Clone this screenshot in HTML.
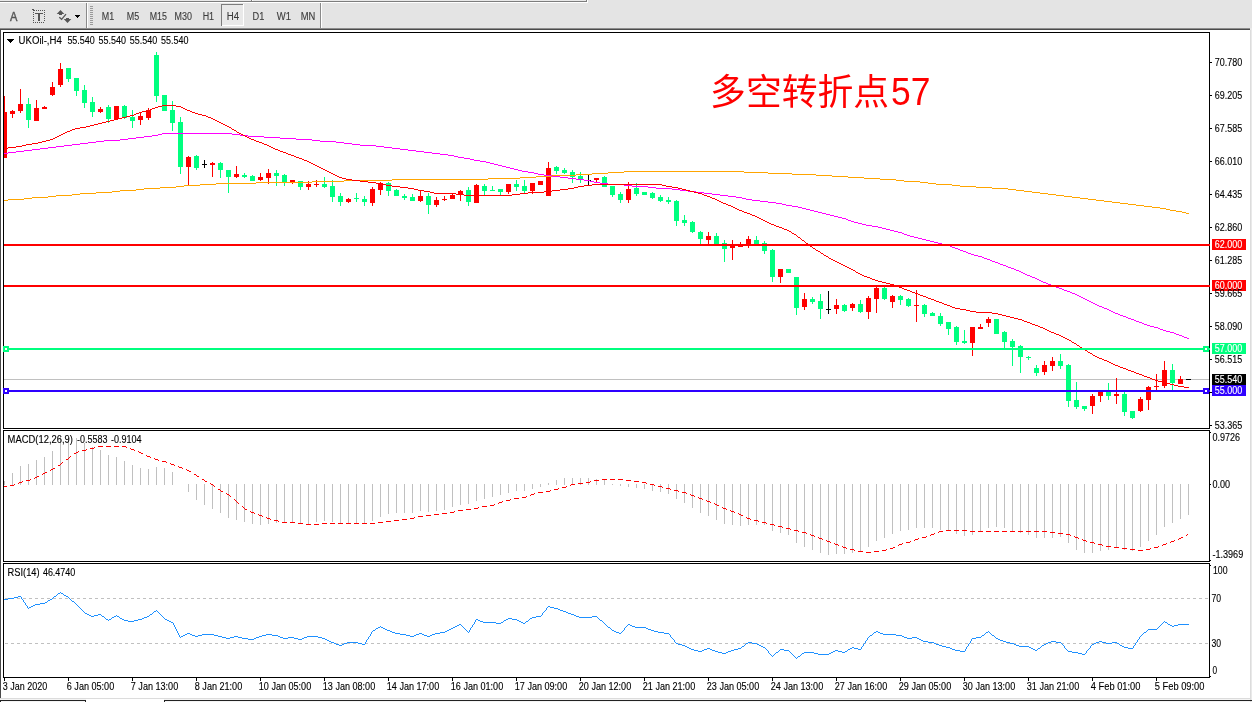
<!DOCTYPE html><html><head><meta charset="utf-8"><title>UKOil H4</title>
<style>html,body{margin:0;padding:0;background:#fff}body{width:1252px;height:702px;overflow:hidden;position:relative;font-family:"Liberation Sans",sans-serif}svg{position:absolute;left:0;top:0;display:block;will-change:transform}text{font-family:"Liberation Sans",sans-serif;font-size:10px;fill:#000;stroke:#000;stroke-width:0.12px}.tb{fill:#3c3c3c;stroke:#3c3c3c;font-size:10px}.w{fill:#fff;stroke:#fff}</style></head><body>
<svg width="1252" height="702" viewBox="0 0 1252 702">
<g shape-rendering="crispEdges">
<rect x="0" y="0" width="1252" height="702" fill="#fff"/>
<rect x="0" y="0" width="1252" height="28" fill="#e4e4e4"/>
<rect x="0" y="0" width="587" height="1" fill="#e9e9e9"/>
<rect x="0" y="1" width="587" height="1" fill="#7d7d7d"/>
<rect x="586" y="0" width="1" height="2" fill="#7d7d7d"/>
<rect x="0" y="2" width="588" height="1" fill="#fff"/>
<rect x="587" y="0" width="1" height="3" fill="#fff"/>
<rect x="251" y="0" width="1" height="1" fill="#7d7d7d"/>
<rect x="252" y="0" width="1" height="1" fill="#fff"/>
<rect x="0" y="28" width="1251" height="1" fill="#8c8c8c"/>
<rect x="0" y="29" width="1251" height="1" fill="#4a4a4a"/>
<rect x="1250" y="28" width="2" height="674" fill="#e9e9e9"/>
<rect x="1250" y="30" width="1" height="672" fill="#dcdcdc"/>
<rect x="0" y="29" width="1" height="669" fill="#4a4a4a"/>
<rect x="86" y="3" width="1" height="26" fill="#8a8a8a"/>
<rect x="87" y="3" width="1" height="25" fill="#fff"/>
<rect x="320" y="3" width="1" height="26" fill="#8a8a8a"/>
<rect x="321" y="3" width="1" height="25" fill="#fff"/>
<rect x="90" y="6" width="3" height="1" fill="#9a9a9a"/>
<rect x="90" y="8" width="3" height="1" fill="#9a9a9a"/>
<rect x="90" y="10" width="3" height="1" fill="#9a9a9a"/>
<rect x="90" y="12" width="3" height="1" fill="#9a9a9a"/>
<rect x="90" y="14" width="3" height="1" fill="#9a9a9a"/>
<rect x="90" y="16" width="3" height="1" fill="#9a9a9a"/>
<rect x="90" y="18" width="3" height="1" fill="#9a9a9a"/>
<rect x="90" y="20" width="3" height="1" fill="#9a9a9a"/>
<rect x="90" y="22" width="3" height="1" fill="#9a9a9a"/>
<rect x="90" y="24" width="3" height="1" fill="#9a9a9a"/>
<rect x="221" y="4" width="22" height="1" fill="#7d7d7d"/>
<rect x="221" y="4" width="1" height="22" fill="#7d7d7d"/>
<rect x="222" y="25" width="22" height="1" fill="#fff"/>
<rect x="243" y="4" width="1" height="22" fill="#fff"/>
<rect x="222" y="5" width="21" height="20" fill="#e9e9e9"/>
<rect x="36" y="10" width="1" height="1" fill="#555"/>
<rect x="38" y="10" width="1" height="1" fill="#555"/>
<rect x="40" y="10" width="1" height="1" fill="#555"/>
<rect x="42" y="10" width="1" height="1" fill="#555"/>
<rect x="44" y="10" width="1" height="1" fill="#555"/>
<rect x="33" y="22" width="1" height="1" fill="#555"/>
<rect x="35" y="22" width="1" height="1" fill="#555"/>
<rect x="37" y="22" width="1" height="1" fill="#555"/>
<rect x="39" y="22" width="1" height="1" fill="#555"/>
<rect x="41" y="22" width="1" height="1" fill="#555"/>
<rect x="43" y="22" width="1" height="1" fill="#555"/>
<rect x="33" y="12" width="1" height="1" fill="#555"/>
<rect x="33" y="14" width="1" height="1" fill="#555"/>
<rect x="33" y="16" width="1" height="1" fill="#555"/>
<rect x="33" y="18" width="1" height="1" fill="#555"/>
<rect x="33" y="20" width="1" height="1" fill="#555"/>
<rect x="33" y="22" width="1" height="1" fill="#555"/>
<rect x="44" y="10" width="1" height="1" fill="#555"/>
<rect x="44" y="12" width="1" height="1" fill="#555"/>
<rect x="44" y="14" width="1" height="1" fill="#555"/>
<rect x="44" y="16" width="1" height="1" fill="#555"/>
<rect x="44" y="18" width="1" height="1" fill="#555"/>
<rect x="44" y="20" width="1" height="1" fill="#555"/>
<rect x="32" y="9" width="2" height="1" fill="#555"/>
<rect x="33" y="10" width="2" height="1" fill="#555"/>
<rect x="35" y="13" width="8" height="1" fill="#555"/>
<rect x="38" y="13" width="2" height="8" fill="#555"/>
<rect x="75" y="15" width="5" height="1" fill="#000"/>
<rect x="76" y="16" width="3" height="1" fill="#000"/>
<rect x="77" y="17" width="1" height="1" fill="#000"/>
</g>
<path d="M60.5 10 L64.3 14 L62 14 L62 15 L59 15 L59 14 L56.7 14 Z" fill="#555"/>
<path d="M67.5 23 L71.3 19 L69 19 L69 18 L66 18 L66 19 L63.7 19 Z" fill="#555"/>
<path d="M59.3 17.3 L61.6 19.3 L66 14.2" fill="none" stroke="#555" stroke-width="1.3"/>
<text x="10" y="21" style="font-size:12.6px;fill:#555;stroke:#555;stroke-width:0.42px" textLength="7.4" lengthAdjust="spacingAndGlyphs">A</text>
<text class="tb" x="101.8" y="20" textLength="12.4" lengthAdjust="spacingAndGlyphs">M1</text>
<text class="tb" x="126.8" y="20" textLength="12.4" lengthAdjust="spacingAndGlyphs">M5</text>
<text class="tb" x="149.7" y="20" textLength="17.2" lengthAdjust="spacingAndGlyphs">M15</text>
<text class="tb" x="174.6" y="20" textLength="17.4" lengthAdjust="spacingAndGlyphs">M30</text>
<text class="tb" x="202.7" y="20" textLength="11.4" lengthAdjust="spacingAndGlyphs">H1</text>
<text class="tb" x="226.7" y="20" textLength="12.4" lengthAdjust="spacingAndGlyphs">H4</text>
<text class="tb" x="252.6" y="20" textLength="11.8" lengthAdjust="spacingAndGlyphs">D1</text>
<text class="tb" x="276.8" y="20" textLength="14.2" lengthAdjust="spacingAndGlyphs">W1</text>
<text class="tb" x="300.8" y="20" textLength="14.6" lengthAdjust="spacingAndGlyphs">MN</text>
<g shape-rendering="crispEdges">
<rect x="0" y="698" width="1250" height="1" fill="#dcdcdc"/>
<rect x="0" y="699" width="1250" height="3" fill="#f4f4f4"/>
<rect x="0" y="700" width="86" height="1" fill="#222"/>
<rect x="85" y="700" width="1" height="2" fill="#222"/>
<rect x="0" y="700" width="1" height="2" fill="#222"/>
<rect x="164" y="700" width="1088" height="1" fill="#222"/>
<rect x="164" y="700" width="1" height="2" fill="#222"/>
<rect x="86" y="699" width="78" height="3" fill="#fff"/>
</g>
<defs><clipPath id="cm"><rect x="4" y="33" width="1205" height="395"/></clipPath><clipPath id="cc"><rect x="4" y="431" width="1205" height="130"/></clipPath><clipPath id="cr"><rect x="4" y="564" width="1205" height="113"/></clipPath></defs>
<g shape-rendering="crispEdges">
<rect x="4" y="379" width="1205" height="1" fill="#c0c0c0"/>
<g clip-path="url(#cm)">
<rect x="4" y="96" width="1" height="62" fill="#ff0000"/>
<rect x="2" y="112" width="5" height="46" fill="#ff0000"/>
<rect x="12" y="110" width="1" height="8" fill="#ff0000"/>
<rect x="10" y="111" width="5" height="3" fill="#ff0000"/>
<rect x="20" y="89" width="1" height="24" fill="#ff0000"/>
<rect x="18" y="104" width="5" height="7" fill="#ff0000"/>
<rect x="28" y="98" width="1" height="30" fill="#00ff7f"/>
<rect x="26" y="104" width="5" height="16" fill="#00ff7f"/>
<rect x="36" y="100" width="1" height="21" fill="#ff0000"/>
<rect x="34" y="108" width="5" height="13" fill="#ff0000"/>
<rect x="44" y="106" width="1" height="3" fill="#ff0000"/>
<rect x="42" y="107" width="5" height="2" fill="#ff0000"/>
<rect x="52" y="82" width="1" height="14" fill="#ff0000"/>
<rect x="50" y="87" width="5" height="8" fill="#ff0000"/>
<rect x="60" y="63" width="1" height="24" fill="#ff0000"/>
<rect x="58" y="69" width="5" height="16" fill="#ff0000"/>
<rect x="68" y="68" width="1" height="14" fill="#00ff7f"/>
<rect x="66" y="68" width="5" height="11" fill="#00ff7f"/>
<rect x="76" y="78" width="1" height="18" fill="#00ff7f"/>
<rect x="74" y="78" width="5" height="13" fill="#00ff7f"/>
<rect x="84" y="85" width="1" height="23" fill="#00ff7f"/>
<rect x="82" y="90" width="5" height="13" fill="#00ff7f"/>
<rect x="92" y="97" width="1" height="20" fill="#00ff7f"/>
<rect x="90" y="102" width="5" height="10" fill="#00ff7f"/>
<rect x="100" y="107" width="1" height="6" fill="#ff0000"/>
<rect x="98" y="109" width="5" height="3" fill="#ff0000"/>
<rect x="108" y="105" width="1" height="18" fill="#00ff7f"/>
<rect x="106" y="107" width="5" height="12" fill="#00ff7f"/>
<rect x="116" y="106" width="1" height="14" fill="#ff0000"/>
<rect x="114" y="106" width="5" height="13" fill="#ff0000"/>
<rect x="124" y="105" width="1" height="14" fill="#00ff7f"/>
<rect x="122" y="106" width="5" height="12" fill="#00ff7f"/>
<rect x="132" y="110" width="1" height="18" fill="#00ff7f"/>
<rect x="130" y="117" width="5" height="4" fill="#00ff7f"/>
<rect x="140" y="112" width="1" height="13" fill="#ff0000"/>
<rect x="138" y="116" width="5" height="4" fill="#ff0000"/>
<rect x="148" y="108" width="1" height="12" fill="#ff0000"/>
<rect x="146" y="110" width="5" height="8" fill="#ff0000"/>
<rect x="156" y="52" width="1" height="50" fill="#00ff7f"/>
<rect x="154" y="55" width="5" height="41" fill="#00ff7f"/>
<rect x="164" y="95" width="1" height="16" fill="#00ff7f"/>
<rect x="162" y="95" width="5" height="16" fill="#00ff7f"/>
<rect x="172" y="101" width="1" height="30" fill="#00ff7f"/>
<rect x="170" y="110" width="5" height="13" fill="#00ff7f"/>
<rect x="180" y="117" width="1" height="57" fill="#00ff7f"/>
<rect x="178" y="122" width="5" height="45" fill="#00ff7f"/>
<rect x="188" y="156" width="1" height="30" fill="#ff0000"/>
<rect x="186" y="157" width="5" height="10" fill="#ff0000"/>
<rect x="196" y="155" width="1" height="15" fill="#00ff7f"/>
<rect x="194" y="156" width="5" height="12" fill="#00ff7f"/>
<rect x="204" y="160" width="1" height="8" fill="#000"/>
<rect x="202" y="164" width="5" height="1" fill="#000"/>
<rect x="212" y="162" width="1" height="15" fill="#ff0000"/>
<rect x="210" y="163" width="5" height="2" fill="#ff0000"/>
<rect x="220" y="162" width="1" height="16" fill="#00ff7f"/>
<rect x="218" y="163" width="5" height="7" fill="#00ff7f"/>
<rect x="228" y="170" width="1" height="23" fill="#00ff7f"/>
<rect x="226" y="170" width="5" height="7" fill="#00ff7f"/>
<rect x="236" y="166" width="1" height="12" fill="#ff0000"/>
<rect x="234" y="174" width="5" height="3" fill="#ff0000"/>
<rect x="244" y="173" width="1" height="5" fill="#00ff7f"/>
<rect x="242" y="175" width="5" height="2" fill="#00ff7f"/>
<rect x="252" y="175" width="1" height="6" fill="#00ff7f"/>
<rect x="250" y="176" width="5" height="5" fill="#00ff7f"/>
<rect x="260" y="173" width="1" height="8" fill="#ff0000"/>
<rect x="258" y="177" width="5" height="3" fill="#ff0000"/>
<rect x="268" y="169" width="1" height="15" fill="#ff0000"/>
<rect x="266" y="173" width="5" height="5" fill="#ff0000"/>
<rect x="276" y="170" width="1" height="16" fill="#00ff7f"/>
<rect x="274" y="173" width="5" height="3" fill="#00ff7f"/>
<rect x="284" y="174" width="1" height="12" fill="#00ff7f"/>
<rect x="282" y="175" width="5" height="7" fill="#00ff7f"/>
<rect x="292" y="180" width="1" height="4" fill="#ff0000"/>
<rect x="290" y="180" width="5" height="3" fill="#ff0000"/>
<rect x="300" y="181" width="1" height="9" fill="#00ff7f"/>
<rect x="298" y="181" width="5" height="6" fill="#00ff7f"/>
<rect x="308" y="181" width="1" height="9" fill="#ff0000"/>
<rect x="306" y="184" width="5" height="3" fill="#ff0000"/>
<rect x="316" y="180" width="1" height="7" fill="#ff0000"/>
<rect x="314" y="184" width="5" height="1" fill="#ff0000"/>
<rect x="324" y="177" width="1" height="11" fill="#00ff7f"/>
<rect x="322" y="184" width="5" height="3" fill="#00ff7f"/>
<rect x="332" y="180" width="1" height="22" fill="#00ff7f"/>
<rect x="330" y="186" width="5" height="11" fill="#00ff7f"/>
<rect x="340" y="193" width="1" height="13" fill="#00ff7f"/>
<rect x="338" y="196" width="5" height="6" fill="#00ff7f"/>
<rect x="348" y="198" width="1" height="5" fill="#ff0000"/>
<rect x="346" y="199" width="5" height="3" fill="#ff0000"/>
<rect x="356" y="193" width="1" height="9" fill="#00ff7f"/>
<rect x="354" y="198" width="5" height="1" fill="#00ff7f"/>
<rect x="364" y="196" width="1" height="10" fill="#00ff7f"/>
<rect x="362" y="199" width="5" height="3" fill="#00ff7f"/>
<rect x="372" y="187" width="1" height="19" fill="#ff0000"/>
<rect x="370" y="189" width="5" height="14" fill="#ff0000"/>
<rect x="380" y="182" width="1" height="13" fill="#ff0000"/>
<rect x="378" y="183" width="5" height="7" fill="#ff0000"/>
<rect x="388" y="182" width="1" height="14" fill="#00ff7f"/>
<rect x="386" y="183" width="5" height="8" fill="#00ff7f"/>
<rect x="396" y="189" width="1" height="7" fill="#00ff7f"/>
<rect x="394" y="190" width="5" height="6" fill="#00ff7f"/>
<rect x="404" y="194" width="1" height="6" fill="#00ff7f"/>
<rect x="402" y="196" width="5" height="2" fill="#00ff7f"/>
<rect x="412" y="194" width="1" height="7" fill="#00ff7f"/>
<rect x="410" y="197" width="5" height="4" fill="#00ff7f"/>
<rect x="420" y="191" width="1" height="11" fill="#ff0000"/>
<rect x="418" y="196" width="5" height="5" fill="#ff0000"/>
<rect x="428" y="193" width="1" height="21" fill="#00ff7f"/>
<rect x="426" y="196" width="5" height="9" fill="#00ff7f"/>
<rect x="436" y="197" width="1" height="10" fill="#ff0000"/>
<rect x="434" y="200" width="5" height="5" fill="#ff0000"/>
<rect x="444" y="196" width="1" height="5" fill="#ff0000"/>
<rect x="442" y="199" width="5" height="1" fill="#ff0000"/>
<rect x="452" y="194" width="1" height="5" fill="#ff0000"/>
<rect x="450" y="195" width="5" height="4" fill="#ff0000"/>
<rect x="460" y="190" width="1" height="11" fill="#ff0000"/>
<rect x="458" y="191" width="5" height="3" fill="#ff0000"/>
<rect x="468" y="187" width="1" height="19" fill="#00ff7f"/>
<rect x="466" y="190" width="5" height="12" fill="#00ff7f"/>
<rect x="476" y="184" width="1" height="19" fill="#ff0000"/>
<rect x="474" y="185" width="5" height="18" fill="#ff0000"/>
<rect x="484" y="184" width="1" height="11" fill="#00ff7f"/>
<rect x="482" y="186" width="5" height="5" fill="#00ff7f"/>
<rect x="492" y="186" width="1" height="5" fill="#00ff7f"/>
<rect x="490" y="190" width="5" height="1" fill="#00ff7f"/>
<rect x="500" y="189" width="1" height="6" fill="#00ff7f"/>
<rect x="498" y="189" width="5" height="3" fill="#00ff7f"/>
<rect x="508" y="184" width="1" height="10" fill="#ff0000"/>
<rect x="506" y="184" width="5" height="8" fill="#ff0000"/>
<rect x="516" y="180" width="1" height="11" fill="#00ff7f"/>
<rect x="514" y="184" width="5" height="3" fill="#00ff7f"/>
<rect x="524" y="180" width="1" height="13" fill="#00ff7f"/>
<rect x="522" y="186" width="5" height="5" fill="#00ff7f"/>
<rect x="532" y="183" width="1" height="11" fill="#ff0000"/>
<rect x="530" y="183" width="5" height="8" fill="#ff0000"/>
<rect x="540" y="181" width="1" height="4" fill="#ff0000"/>
<rect x="538" y="181" width="5" height="4" fill="#ff0000"/>
<rect x="548" y="162" width="1" height="34" fill="#ff0000"/>
<rect x="546" y="168" width="5" height="28" fill="#ff0000"/>
<rect x="556" y="166" width="1" height="8" fill="#00ff7f"/>
<rect x="554" y="167" width="5" height="4" fill="#00ff7f"/>
<rect x="564" y="168" width="1" height="6" fill="#00ff7f"/>
<rect x="562" y="170" width="5" height="3" fill="#00ff7f"/>
<rect x="572" y="170" width="1" height="13" fill="#00ff7f"/>
<rect x="570" y="172" width="5" height="5" fill="#00ff7f"/>
<rect x="580" y="172" width="1" height="11" fill="#00ff7f"/>
<rect x="578" y="176" width="5" height="3" fill="#00ff7f"/>
<rect x="588" y="175" width="1" height="10" fill="#000"/>
<rect x="586" y="180" width="5" height="1" fill="#000"/>
<rect x="596" y="178" width="1" height="4" fill="#ff0000"/>
<rect x="594" y="178" width="5" height="2" fill="#ff0000"/>
<rect x="604" y="176" width="1" height="11" fill="#00ff7f"/>
<rect x="602" y="177" width="5" height="10" fill="#00ff7f"/>
<rect x="612" y="186" width="1" height="11" fill="#00ff7f"/>
<rect x="610" y="186" width="5" height="9" fill="#00ff7f"/>
<rect x="620" y="192" width="1" height="11" fill="#00ff7f"/>
<rect x="618" y="194" width="5" height="6" fill="#00ff7f"/>
<rect x="628" y="182" width="1" height="21" fill="#ff0000"/>
<rect x="626" y="189" width="5" height="11" fill="#ff0000"/>
<rect x="636" y="183" width="1" height="13" fill="#00ff7f"/>
<rect x="634" y="188" width="5" height="6" fill="#00ff7f"/>
<rect x="644" y="192" width="1" height="3" fill="#00ff7f"/>
<rect x="642" y="192" width="5" height="3" fill="#00ff7f"/>
<rect x="652" y="192" width="1" height="7" fill="#00ff7f"/>
<rect x="650" y="193" width="5" height="5" fill="#00ff7f"/>
<rect x="660" y="195" width="1" height="7" fill="#00ff7f"/>
<rect x="658" y="197" width="5" height="4" fill="#00ff7f"/>
<rect x="668" y="197" width="1" height="7" fill="#00ff7f"/>
<rect x="666" y="200" width="5" height="2" fill="#00ff7f"/>
<rect x="676" y="200" width="1" height="26" fill="#00ff7f"/>
<rect x="674" y="201" width="5" height="20" fill="#00ff7f"/>
<rect x="684" y="215" width="1" height="11" fill="#00ff7f"/>
<rect x="682" y="220" width="5" height="3" fill="#00ff7f"/>
<rect x="692" y="221" width="1" height="12" fill="#00ff7f"/>
<rect x="690" y="222" width="5" height="10" fill="#00ff7f"/>
<rect x="700" y="231" width="1" height="13" fill="#00ff7f"/>
<rect x="698" y="232" width="5" height="7" fill="#00ff7f"/>
<rect x="708" y="232" width="1" height="12" fill="#ff0000"/>
<rect x="706" y="236" width="5" height="4" fill="#ff0000"/>
<rect x="716" y="233" width="1" height="13" fill="#00ff7f"/>
<rect x="714" y="236" width="5" height="8" fill="#00ff7f"/>
<rect x="724" y="240" width="1" height="22" fill="#00ff7f"/>
<rect x="722" y="243" width="5" height="6" fill="#00ff7f"/>
<rect x="732" y="240" width="1" height="20" fill="#ff0000"/>
<rect x="730" y="244" width="5" height="4" fill="#ff0000"/>
<rect x="740" y="242" width="1" height="5" fill="#ff0000"/>
<rect x="738" y="244" width="5" height="3" fill="#ff0000"/>
<rect x="748" y="236" width="1" height="12" fill="#ff0000"/>
<rect x="746" y="239" width="5" height="7" fill="#ff0000"/>
<rect x="756" y="236" width="1" height="8" fill="#00ff7f"/>
<rect x="754" y="240" width="5" height="4" fill="#00ff7f"/>
<rect x="764" y="241" width="1" height="13" fill="#00ff7f"/>
<rect x="762" y="243" width="5" height="8" fill="#00ff7f"/>
<rect x="772" y="249" width="1" height="33" fill="#00ff7f"/>
<rect x="770" y="250" width="5" height="27" fill="#00ff7f"/>
<rect x="780" y="269" width="1" height="14" fill="#ff0000"/>
<rect x="778" y="269" width="5" height="8" fill="#ff0000"/>
<rect x="788" y="269" width="1" height="4" fill="#00ff7f"/>
<rect x="786" y="269" width="5" height="4" fill="#00ff7f"/>
<rect x="796" y="277" width="1" height="38" fill="#00ff7f"/>
<rect x="794" y="277" width="5" height="31" fill="#00ff7f"/>
<rect x="804" y="293" width="1" height="17" fill="#ff0000"/>
<rect x="802" y="299" width="5" height="8" fill="#ff0000"/>
<rect x="812" y="297" width="1" height="7" fill="#00ff7f"/>
<rect x="810" y="299" width="5" height="3" fill="#00ff7f"/>
<rect x="820" y="294" width="1" height="25" fill="#00ff7f"/>
<rect x="818" y="301" width="5" height="8" fill="#00ff7f"/>
<rect x="828" y="291" width="1" height="23" fill="#000"/>
<rect x="826" y="309" width="5" height="1" fill="#000"/>
<rect x="836" y="299" width="1" height="15" fill="#ff0000"/>
<rect x="834" y="305" width="5" height="4" fill="#ff0000"/>
<rect x="844" y="304" width="1" height="8" fill="#00ff7f"/>
<rect x="842" y="305" width="5" height="6" fill="#00ff7f"/>
<rect x="852" y="303" width="1" height="8" fill="#ff0000"/>
<rect x="850" y="304" width="5" height="4" fill="#ff0000"/>
<rect x="860" y="300" width="1" height="13" fill="#00ff7f"/>
<rect x="858" y="304" width="5" height="8" fill="#00ff7f"/>
<rect x="868" y="296" width="1" height="23" fill="#ff0000"/>
<rect x="866" y="298" width="5" height="14" fill="#ff0000"/>
<rect x="876" y="287" width="1" height="26" fill="#ff0000"/>
<rect x="874" y="288" width="5" height="11" fill="#ff0000"/>
<rect x="884" y="287" width="1" height="13" fill="#00ff7f"/>
<rect x="882" y="288" width="5" height="11" fill="#00ff7f"/>
<rect x="892" y="295" width="1" height="13" fill="#ff0000"/>
<rect x="890" y="296" width="5" height="6" fill="#ff0000"/>
<rect x="900" y="295" width="1" height="10" fill="#00ff7f"/>
<rect x="898" y="296" width="5" height="4" fill="#00ff7f"/>
<rect x="908" y="298" width="1" height="9" fill="#00ff7f"/>
<rect x="906" y="299" width="5" height="7" fill="#00ff7f"/>
<rect x="916" y="290" width="1" height="32" fill="#ff0000"/>
<rect x="914" y="305" width="5" height="1" fill="#ff0000"/>
<rect x="924" y="304" width="1" height="13" fill="#00ff7f"/>
<rect x="922" y="305" width="5" height="9" fill="#00ff7f"/>
<rect x="932" y="312" width="1" height="4" fill="#00ff7f"/>
<rect x="930" y="313" width="5" height="3" fill="#00ff7f"/>
<rect x="940" y="313" width="1" height="13" fill="#00ff7f"/>
<rect x="938" y="316" width="5" height="8" fill="#00ff7f"/>
<rect x="948" y="322" width="1" height="13" fill="#00ff7f"/>
<rect x="946" y="322" width="5" height="7" fill="#00ff7f"/>
<rect x="956" y="326" width="1" height="19" fill="#00ff7f"/>
<rect x="954" y="327" width="5" height="15" fill="#00ff7f"/>
<rect x="964" y="330" width="1" height="14" fill="#00ff7f"/>
<rect x="962" y="341" width="5" height="2" fill="#00ff7f"/>
<rect x="972" y="327" width="1" height="29" fill="#ff0000"/>
<rect x="970" y="327" width="5" height="16" fill="#ff0000"/>
<rect x="980" y="324" width="1" height="5" fill="#ff0000"/>
<rect x="978" y="327" width="5" height="2" fill="#ff0000"/>
<rect x="988" y="317" width="1" height="10" fill="#ff0000"/>
<rect x="986" y="319" width="5" height="4" fill="#ff0000"/>
<rect x="996" y="319" width="1" height="15" fill="#00ff7f"/>
<rect x="994" y="319" width="5" height="15" fill="#00ff7f"/>
<rect x="1004" y="331" width="1" height="17" fill="#00ff7f"/>
<rect x="1002" y="332" width="5" height="10" fill="#00ff7f"/>
<rect x="1012" y="339" width="1" height="27" fill="#00ff7f"/>
<rect x="1010" y="341" width="5" height="6" fill="#00ff7f"/>
<rect x="1020" y="345" width="1" height="28" fill="#00ff7f"/>
<rect x="1018" y="346" width="5" height="11" fill="#00ff7f"/>
<rect x="1028" y="356" width="1" height="4" fill="#00ff7f"/>
<rect x="1026" y="357" width="5" height="1" fill="#00ff7f"/>
<rect x="1036" y="365" width="1" height="11" fill="#00ff7f"/>
<rect x="1034" y="368" width="5" height="5" fill="#00ff7f"/>
<rect x="1044" y="361" width="1" height="14" fill="#ff0000"/>
<rect x="1042" y="365" width="5" height="7" fill="#ff0000"/>
<rect x="1052" y="357" width="1" height="14" fill="#ff0000"/>
<rect x="1050" y="361" width="5" height="5" fill="#ff0000"/>
<rect x="1060" y="354" width="1" height="15" fill="#00ff7f"/>
<rect x="1058" y="361" width="5" height="5" fill="#00ff7f"/>
<rect x="1068" y="364" width="1" height="43" fill="#00ff7f"/>
<rect x="1066" y="365" width="5" height="36" fill="#00ff7f"/>
<rect x="1076" y="382" width="1" height="27" fill="#00ff7f"/>
<rect x="1074" y="400" width="5" height="7" fill="#00ff7f"/>
<rect x="1084" y="406" width="1" height="5" fill="#00ff7f"/>
<rect x="1082" y="406" width="5" height="3" fill="#00ff7f"/>
<rect x="1092" y="394" width="1" height="20" fill="#ff0000"/>
<rect x="1090" y="396" width="5" height="10" fill="#ff0000"/>
<rect x="1100" y="390" width="1" height="12" fill="#ff0000"/>
<rect x="1098" y="390" width="5" height="6" fill="#ff0000"/>
<rect x="1108" y="383" width="1" height="17" fill="#00ff7f"/>
<rect x="1106" y="390" width="5" height="6" fill="#00ff7f"/>
<rect x="1116" y="378" width="1" height="26" fill="#ff0000"/>
<rect x="1114" y="394" width="5" height="2" fill="#ff0000"/>
<rect x="1124" y="392" width="1" height="24" fill="#00ff7f"/>
<rect x="1122" y="394" width="5" height="18" fill="#00ff7f"/>
<rect x="1132" y="411" width="1" height="8" fill="#00ff7f"/>
<rect x="1130" y="411" width="5" height="7" fill="#00ff7f"/>
<rect x="1140" y="397" width="1" height="15" fill="#ff0000"/>
<rect x="1138" y="399" width="5" height="12" fill="#ff0000"/>
<rect x="1148" y="386" width="1" height="24" fill="#ff0000"/>
<rect x="1146" y="387" width="5" height="13" fill="#ff0000"/>
<rect x="1156" y="374" width="1" height="16" fill="#ff0000"/>
<rect x="1154" y="386" width="5" height="1" fill="#ff0000"/>
<rect x="1164" y="361" width="1" height="27" fill="#ff0000"/>
<rect x="1162" y="370" width="5" height="16" fill="#ff0000"/>
<rect x="1172" y="364" width="1" height="26" fill="#00ff7f"/>
<rect x="1170" y="370" width="5" height="13" fill="#00ff7f"/>
<rect x="1180" y="376" width="1" height="8" fill="#ff0000"/>
<rect x="1178" y="379" width="5" height="5" fill="#ff0000"/>
<rect x="1188" y="379" width="1" height="1" fill="#000"/>
<rect x="1186" y="379" width="5" height="1" fill="#000"/>
</g>
</g>
<g shape-rendering="crispEdges" clip-path="url(#cm)">
<path fill="#ffa500" d="M624 171h120v1h-120zM608 172h16v1h-16zM744 172h24v1h-24zM592 173h16v1h-16zM768 173h24v1h-24zM576 174h16v1h-16zM792 174h24v1h-24zM552 175h24v1h-24zM816 175h16v1h-16zM536 176h16v1h-16zM832 176h16v1h-16zM520 177h16v1h-16zM848 177h16v1h-16zM488 178h32v1h-32zM864 178h16v1h-16zM392 179h96v1h-96zM880 179h16v1h-16zM344 180h48v1h-48zM896 180h8v1h-8zM312 181h32v1h-32zM904 181h16v1h-16zM256 182h56v1h-56zM920 182h8v1h-8zM216 183h40v1h-40zM928 183h8v1h-8zM200 184h16v1h-16zM936 184h16v1h-16zM184 185h16v1h-16zM952 185h8v1h-8zM176 186h8v1h-8zM960 186h16v1h-16zM160 187h16v1h-16zM976 187h16v1h-16zM144 188h16v1h-16zM992 188h16v1h-16zM136 189h8v1h-8zM1008 189h8v1h-8zM120 190h16v1h-16zM1016 190h8v1h-8zM112 191h8v1h-8zM1024 191h8v1h-8zM96 192h16v1h-16zM1032 192h8v1h-8zM80 193h16v1h-16zM1040 193h8v1h-8zM72 194h8v1h-8zM1048 194h8v1h-8zM56 195h16v1h-16zM1056 195h8v1h-8zM48 196h8v1h-8zM1064 196h8v1h-8zM32 197h16v1h-16zM1072 197h8v1h-8zM24 198h8v1h-8zM1080 198h8v1h-8zM8 199h16v1h-16zM1088 199h8v1h-8zM4 200h4v1h-4zM1096 200h8v1h-8zM1104 201h8v1h-8zM1112 202h8v1h-8zM1120 203h8v1h-8zM1128 204h8v1h-8zM1136 205h8v1h-8zM1144 206h8v1h-8zM1152 207h8v1h-8zM1160 208h6v1h-6zM1166 209h4v1h-4zM1170 210h6v1h-6zM1176 211h6v1h-6zM1182 212h4v1h-4zM1186 213h3v1h-3z"/>
<path fill="#ff00ff" d="M162 133h70v1h-70zM158 134h4v1h-4zM232 134h8v1h-8zM152 135h6v1h-6zM240 135h8v1h-8zM144 136h8v1h-8zM248 136h16v1h-16zM136 137h8v1h-8zM264 137h16v1h-16zM128 138h8v1h-8zM280 138h16v1h-16zM120 139h8v1h-8zM296 139h16v1h-16zM104 140h16v1h-16zM312 140h8v1h-8zM96 141h8v1h-8zM320 141h16v1h-16zM88 142h8v1h-8zM336 142h8v1h-8zM80 143h8v1h-8zM344 143h8v1h-8zM72 144h8v1h-8zM352 144h8v1h-8zM64 145h8v1h-8zM360 145h16v1h-16zM56 146h8v1h-8zM376 146h8v1h-8zM48 147h8v1h-8zM384 147h8v1h-8zM40 148h8v1h-8zM392 148h8v1h-8zM32 149h8v1h-8zM400 149h8v1h-8zM24 150h8v1h-8zM408 150h8v1h-8zM16 151h8v1h-8zM416 151h8v1h-8zM8 152h8v1h-8zM424 152h8v1h-8zM4 153h4v1h-4zM432 153h8v1h-8zM440 154h8v1h-8zM448 155h6v1h-6zM454 156h4v1h-4zM458 157h6v1h-6zM464 158h6v1h-6zM470 159h4v1h-4zM474 160h6v1h-6zM480 161h6v1h-6zM486 162h4v1h-4zM490 163h4v1h-4zM494 164h4v1h-4zM498 165h4v1h-4zM502 166h4v1h-4zM506 167h4v1h-4zM510 168h4v1h-4zM514 169h4v1h-4zM518 170h4v1h-4zM522 171h6v1h-6zM528 172h6v1h-6zM534 173h4v1h-4zM538 174h6v1h-6zM544 175h8v1h-8zM552 176h8v1h-8zM560 177h8v1h-8zM568 178h8v1h-8zM576 179h8v1h-8zM584 180h6v1h-6zM590 181h4v1h-4zM594 182h6v1h-6zM600 183h8v1h-8zM608 184h16v1h-16zM624 185h8v1h-8zM632 186h16v1h-16zM648 187h8v1h-8zM656 188h16v1h-16zM672 189h8v1h-8zM680 190h8v1h-8zM688 191h8v1h-8zM696 192h8v1h-8zM704 193h8v1h-8zM712 194h8v1h-8zM720 195h8v1h-8zM728 196h8v1h-8zM736 197h6v1h-6zM742 198h4v1h-4zM746 199h6v1h-6zM752 200h8v1h-8zM760 201h8v1h-8zM768 202h8v1h-8zM776 203h6v1h-6zM782 204h4v1h-4zM786 205h6v1h-6zM792 206h6v1h-6zM798 207h4v1h-4zM802 208h4v1h-4zM806 209h4v1h-4zM810 210h4v1h-4zM814 211h4v1h-4zM818 212h4v1h-4zM822 213h4v1h-4zM826 214h4v1h-4zM830 215h4v1h-4zM834 216h4v1h-4zM838 217h4v1h-4zM842 218h4v1h-4zM846 219h2v1h-2zM848 220h3v1h-3zM851 221h3v1h-3zM854 222h4v1h-4zM858 223h4v1h-4zM862 224h4v1h-4zM866 225h6v1h-6zM872 226h6v1h-6zM878 227h4v1h-4zM882 228h4v1h-4zM886 229h4v1h-4zM890 230h4v1h-4zM894 231h4v1h-4zM898 232h4v1h-4zM902 233h2v1h-2zM904 234h3v1h-3zM907 235h3v1h-3zM910 236h4v1h-4zM914 237h4v1h-4zM918 238h4v1h-4zM922 239h4v1h-4zM926 240h4v1h-4zM930 241h4v1h-4zM934 242h4v1h-4zM938 243h4v1h-4zM942 244h4v1h-4zM946 245h4v1h-4zM950 246h2v1h-2zM952 247h3v1h-3zM955 248h3v1h-3zM958 249h2v1h-2zM960 250h3v1h-3zM963 251h3v1h-3zM966 252h2v1h-2zM968 253h3v1h-3zM971 254h3v1h-3zM974 255h4v1h-4zM978 256h4v1h-4zM982 257h2v1h-2zM984 258h3v1h-3zM987 259h3v1h-3zM990 260h2v1h-2zM992 261h3v1h-3zM995 262h3v1h-3zM998 263h2v1h-2zM1000 264h3v1h-3zM1003 265h3v1h-3zM1006 266h2v1h-2zM1008 267h3v1h-3zM1011 268h3v1h-3zM1014 269h2v1h-2zM1016 270h3v1h-3zM1019 271h2v1h-2zM1021 272h2v1h-2zM1023 273h2v1h-2zM1025 274h2v1h-2zM1027 275h3v1h-3zM1030 276h2v1h-2zM1032 277h3v1h-3zM1035 278h2v1h-2zM1037 279h2v1h-2zM1039 280h2v1h-2zM1041 281h2v1h-2zM1043 282h3v1h-3zM1046 283h2v1h-2zM1048 284h3v1h-3zM1051 285h3v1h-3zM1054 286h2v1h-2zM1056 287h3v1h-3zM1059 288h3v1h-3zM1062 289h2v1h-2zM1064 290h3v1h-3zM1067 291h3v1h-3zM1070 292h2v1h-2zM1072 293h3v1h-3zM1075 294h2v1h-2zM1077 295h2v1h-2zM1079 296h2v1h-2zM1081 297h2v1h-2zM1083 298h2v1h-2zM1085 299h2v1h-2zM1087 300h2v1h-2zM1089 301h2v1h-2zM1091 302h2v1h-2zM1093 303h2v1h-2zM1095 304h2v1h-2zM1097 305h2v1h-2zM1099 306h3v1h-3zM1102 307h2v1h-2zM1104 308h3v1h-3zM1107 309h2v1h-2zM1109 310h2v1h-2zM1111 311h2v1h-2zM1113 312h2v1h-2zM1115 313h3v1h-3zM1118 314h2v1h-2zM1120 315h3v1h-3zM1123 316h3v1h-3zM1126 317h2v1h-2zM1128 318h3v1h-3zM1131 319h3v1h-3zM1134 320h2v1h-2zM1136 321h3v1h-3zM1139 322h3v1h-3zM1142 323h2v1h-2zM1144 324h3v1h-3zM1147 325h3v1h-3zM1150 326h4v1h-4zM1154 327h4v1h-4zM1158 328h2v1h-2zM1160 329h3v1h-3zM1163 330h3v1h-3zM1166 331h4v1h-4zM1170 332h4v1h-4zM1174 333h2v1h-2zM1176 334h3v1h-3zM1179 335h3v1h-3zM1182 336h2v1h-2zM1184 337h3v1h-3zM1187 338h2v1h-2z"/>
<path fill="#ff0000" d="M162 105h14v1h-14zM158 106h4v1h-4zM176 106h5v1h-5zM155 107h3v1h-3zM181 107h2v1h-2zM152 108h3v1h-3zM183 108h2v1h-2zM150 109h2v1h-2zM185 109h2v1h-2zM146 110h4v1h-4zM187 110h3v1h-3zM142 111h4v1h-4zM190 111h2v1h-2zM139 112h3v1h-3zM192 112h3v1h-3zM136 113h3v1h-3zM195 113h3v1h-3zM134 114h2v1h-2zM198 114h4v1h-4zM130 115h4v1h-4zM202 115h4v1h-4zM126 116h4v1h-4zM206 116h2v1h-2zM122 117h4v1h-4zM208 117h3v1h-3zM118 118h4v1h-4zM211 118h2v1h-2zM114 119h4v1h-4zM213 119h2v1h-2zM110 120h4v1h-4zM215 120h2v1h-2zM106 121h4v1h-4zM217 121h2v1h-2zM102 122h4v1h-4zM219 122h2v1h-2zM98 123h4v1h-4zM221 123h2v1h-2zM94 124h4v1h-4zM223 124h2v1h-2zM90 125h4v1h-4zM225 125h2v1h-2zM86 126h4v1h-4zM227 126h2v1h-2zM80 127h6v1h-6zM229 127h2v1h-2zM75 128h5v1h-5zM231 128h1v1h-1zM72 129h3v1h-3zM232 129h2v1h-2zM70 130h2v1h-2zM234 130h2v1h-2zM67 131h3v1h-3zM236 131h1v1h-1zM65 132h2v1h-2zM237 132h2v1h-2zM63 133h2v1h-2zM239 133h2v1h-2zM61 134h2v1h-2zM241 134h2v1h-2zM59 135h2v1h-2zM243 135h2v1h-2zM57 136h2v1h-2zM245 136h2v1h-2zM55 137h2v1h-2zM247 137h2v1h-2zM53 138h2v1h-2zM249 138h2v1h-2zM50 139h3v1h-3zM251 139h3v1h-3zM46 140h4v1h-4zM254 140h2v1h-2zM42 141h4v1h-4zM256 141h3v1h-3zM38 142h4v1h-4zM259 142h3v1h-3zM32 143h6v1h-6zM262 143h2v1h-2zM26 144h6v1h-6zM264 144h3v1h-3zM22 145h4v1h-4zM267 145h2v1h-2zM16 146h6v1h-6zM269 146h2v1h-2zM8 147h8v1h-8zM271 147h2v1h-2zM4 148h4v1h-4zM273 148h2v1h-2zM275 149h3v1h-3zM278 150h2v1h-2zM280 151h3v1h-3zM283 152h3v1h-3zM286 153h2v1h-2zM288 154h3v1h-3zM291 155h3v1h-3zM294 156h2v1h-2zM296 157h3v1h-3zM299 158h3v1h-3zM302 159h2v1h-2zM304 160h3v1h-3zM307 161h2v1h-2zM309 162h2v1h-2zM311 163h2v1h-2zM313 164h2v1h-2zM315 165h2v1h-2zM317 166h2v1h-2zM319 167h2v1h-2zM321 168h2v1h-2zM323 169h2v1h-2zM325 170h2v1h-2zM327 171h2v1h-2zM329 172h2v1h-2zM331 173h2v1h-2zM333 174h2v1h-2zM335 175h2v1h-2zM337 176h2v1h-2zM339 177h3v1h-3zM342 178h4v1h-4zM346 179h6v1h-6zM352 180h8v1h-8zM360 181h8v1h-8zM368 182h8v1h-8zM376 183h6v1h-6zM382 184h4v1h-4zM592 184h70v1h-70zM386 185h6v1h-6zM584 185h8v1h-8zM662 185h4v1h-4zM392 186h8v1h-8zM578 186h6v1h-6zM666 186h6v1h-6zM400 187h8v1h-8zM574 187h4v1h-4zM672 187h6v1h-6zM408 188h6v1h-6zM568 188h6v1h-6zM678 188h4v1h-4zM414 189h4v1h-4zM560 189h8v1h-8zM682 189h4v1h-4zM418 190h6v1h-6zM552 190h8v1h-8zM686 190h4v1h-4zM424 191h6v1h-6zM544 191h8v1h-8zM690 191h4v1h-4zM430 192h4v1h-4zM528 192h16v1h-16zM694 192h4v1h-4zM434 193h22v1h-22zM520 193h8v1h-8zM698 193h4v1h-4zM456 194h8v1h-8zM512 194h8v1h-8zM702 194h2v1h-2zM464 195h48v1h-48zM704 195h3v1h-3zM707 196h3v1h-3zM710 197h2v1h-2zM712 198h3v1h-3zM715 199h2v1h-2zM717 200h2v1h-2zM719 201h2v1h-2zM721 202h2v1h-2zM723 203h3v1h-3zM726 204h2v1h-2zM728 205h3v1h-3zM731 206h2v1h-2zM733 207h2v1h-2zM735 208h2v1h-2zM737 209h2v1h-2zM739 210h3v1h-3zM742 211h2v1h-2zM744 212h3v1h-3zM747 213h3v1h-3zM750 214h2v1h-2zM752 215h3v1h-3zM755 216h2v1h-2zM757 217h2v1h-2zM759 218h2v1h-2zM761 219h2v1h-2zM763 220h2v1h-2zM765 221h2v1h-2zM767 222h2v1h-2zM769 223h2v1h-2zM771 224h3v1h-3zM774 225h2v1h-2zM776 226h3v1h-3zM779 227h3v1h-3zM782 228h2v1h-2zM784 229h3v1h-3zM787 230h2v1h-2zM789 231h2v1h-2zM791 232h1v1h-1zM792 233h2v1h-2zM794 234h2v1h-2zM796 235h1v1h-1zM797 236h1v1h-1zM798 237h2v1h-2zM800 238h1v1h-1zM801 239h1v1h-1zM802 240h2v1h-2zM804 241h1v1h-1zM805 242h1v1h-1zM806 243h2v1h-2zM808 244h1v1h-1zM809 245h1v1h-1zM810 246h2v1h-2zM812 247h1v1h-1zM813 248h2v1h-2zM815 249h1v1h-1zM816 250h2v1h-2zM818 251h2v1h-2zM820 252h1v1h-1zM821 253h2v1h-2zM823 254h1v1h-1zM824 255h2v1h-2zM826 256h2v1h-2zM828 257h1v1h-1zM829 258h2v1h-2zM831 259h2v1h-2zM833 260h2v1h-2zM835 261h2v1h-2zM837 262h2v1h-2zM839 263h2v1h-2zM841 264h2v1h-2zM843 265h2v1h-2zM845 266h2v1h-2zM847 267h2v1h-2zM849 268h2v1h-2zM851 269h2v1h-2zM853 270h2v1h-2zM855 271h1v1h-1zM856 272h2v1h-2zM858 273h2v1h-2zM860 274h2v1h-2zM862 275h2v1h-2zM864 276h3v1h-3zM867 277h3v1h-3zM870 278h2v1h-2zM872 279h3v1h-3zM875 280h3v1h-3zM878 281h4v1h-4zM882 282h4v1h-4zM886 283h4v1h-4zM890 284h4v1h-4zM894 285h2v1h-2zM896 286h3v1h-3zM899 287h3v1h-3zM902 288h2v1h-2zM904 289h3v1h-3zM907 290h3v1h-3zM910 291h2v1h-2zM912 292h3v1h-3zM915 293h3v1h-3zM918 294h2v1h-2zM920 295h3v1h-3zM923 296h3v1h-3zM926 297h2v1h-2zM928 298h3v1h-3zM931 299h3v1h-3zM934 300h2v1h-2zM936 301h3v1h-3zM939 302h3v1h-3zM942 303h2v1h-2zM944 304h3v1h-3zM947 305h3v1h-3zM950 306h2v1h-2zM952 307h3v1h-3zM955 308h5v1h-5zM960 309h6v1h-6zM966 310h4v1h-4zM970 311h6v1h-6zM976 312h16v1h-16zM992 313h6v1h-6zM998 314h4v1h-4zM1002 315h4v1h-4zM1006 316h4v1h-4zM1010 317h4v1h-4zM1014 318h4v1h-4zM1018 319h4v1h-4zM1022 320h2v1h-2zM1024 321h3v1h-3zM1027 322h3v1h-3zM1030 323h2v1h-2zM1032 324h3v1h-3zM1035 325h3v1h-3zM1038 326h2v1h-2zM1040 327h3v1h-3zM1043 328h2v1h-2zM1045 329h2v1h-2zM1047 330h2v1h-2zM1049 331h2v1h-2zM1051 332h3v1h-3zM1054 333h2v1h-2zM1056 334h3v1h-3zM1059 335h2v1h-2zM1061 336h2v1h-2zM1063 337h2v1h-2zM1065 338h2v1h-2zM1067 339h2v1h-2zM1069 340h2v1h-2zM1071 341h1v1h-1zM1072 342h2v1h-2zM1074 343h2v1h-2zM1076 344h1v1h-1zM1077 345h2v1h-2zM1079 346h1v1h-1zM1080 347h2v1h-2zM1082 348h2v1h-2zM1084 349h1v1h-1zM1085 350h2v1h-2zM1087 351h1v1h-1zM1088 352h2v1h-2zM1090 353h2v1h-2zM1092 354h1v1h-1zM1093 355h2v1h-2zM1095 356h2v1h-2zM1097 357h2v1h-2zM1099 358h3v1h-3zM1102 359h2v1h-2zM1104 360h3v1h-3zM1107 361h2v1h-2zM1109 362h2v1h-2zM1111 363h2v1h-2zM1113 364h2v1h-2zM1115 365h3v1h-3zM1118 366h2v1h-2zM1120 367h3v1h-3zM1123 368h3v1h-3zM1126 369h2v1h-2zM1128 370h3v1h-3zM1131 371h3v1h-3zM1134 372h2v1h-2zM1136 373h3v1h-3zM1139 374h3v1h-3zM1142 375h2v1h-2zM1144 376h3v1h-3zM1147 377h3v1h-3zM1150 378h2v1h-2zM1152 379h3v1h-3zM1155 380h3v1h-3zM1158 381h4v1h-4zM1162 382h4v1h-4zM1166 383h4v1h-4zM1170 384h4v1h-4zM1174 385h4v1h-4zM1178 386h6v1h-6zM1184 387h5v1h-5z"/>
</g>
<g shape-rendering="crispEdges">
<rect x="4" y="244" width="1206" height="2" fill="#ff0000"/>
<rect x="4" y="285" width="1206" height="2" fill="#ff0000"/>
<rect x="4" y="348" width="1206" height="2" fill="#00ff7f"/>
<rect x="4" y="390" width="1206" height="2" fill="#2e00ff"/>
</g>
<g shape-rendering="crispEdges" clip-path="url(#cc)">
<rect x="4" y="481" width="1" height="4" fill="#c0c0c0"/>
<rect x="12" y="473" width="1" height="12" fill="#c0c0c0"/>
<rect x="20" y="466" width="1" height="19" fill="#c0c0c0"/>
<rect x="28" y="464" width="1" height="21" fill="#c0c0c0"/>
<rect x="36" y="460" width="1" height="25" fill="#c0c0c0"/>
<rect x="44" y="457" width="1" height="28" fill="#c0c0c0"/>
<rect x="52" y="451" width="1" height="34" fill="#c0c0c0"/>
<rect x="60" y="437" width="1" height="48" fill="#c0c0c0"/>
<rect x="68" y="437" width="1" height="48" fill="#c0c0c0"/>
<rect x="76" y="438" width="1" height="47" fill="#c0c0c0"/>
<rect x="84" y="443" width="1" height="42" fill="#c0c0c0"/>
<rect x="92" y="447" width="1" height="38" fill="#c0c0c0"/>
<rect x="100" y="450" width="1" height="35" fill="#c0c0c0"/>
<rect x="108" y="455" width="1" height="30" fill="#c0c0c0"/>
<rect x="116" y="457" width="1" height="28" fill="#c0c0c0"/>
<rect x="124" y="461" width="1" height="24" fill="#c0c0c0"/>
<rect x="132" y="465" width="1" height="20" fill="#c0c0c0"/>
<rect x="140" y="468" width="1" height="17" fill="#c0c0c0"/>
<rect x="148" y="469" width="1" height="16" fill="#c0c0c0"/>
<rect x="156" y="467" width="1" height="18" fill="#c0c0c0"/>
<rect x="164" y="468" width="1" height="17" fill="#c0c0c0"/>
<rect x="172" y="472" width="1" height="13" fill="#c0c0c0"/>
<rect x="188" y="484" width="1" height="8" fill="#c0c0c0"/>
<rect x="196" y="484" width="1" height="16" fill="#c0c0c0"/>
<rect x="204" y="484" width="1" height="21" fill="#c0c0c0"/>
<rect x="212" y="484" width="1" height="25" fill="#c0c0c0"/>
<rect x="220" y="484" width="1" height="29" fill="#c0c0c0"/>
<rect x="228" y="484" width="1" height="34" fill="#c0c0c0"/>
<rect x="236" y="484" width="1" height="36" fill="#c0c0c0"/>
<rect x="244" y="484" width="1" height="38" fill="#c0c0c0"/>
<rect x="252" y="484" width="1" height="40" fill="#c0c0c0"/>
<rect x="260" y="484" width="1" height="41" fill="#c0c0c0"/>
<rect x="268" y="484" width="1" height="40" fill="#c0c0c0"/>
<rect x="276" y="484" width="1" height="39" fill="#c0c0c0"/>
<rect x="284" y="484" width="1" height="39" fill="#c0c0c0"/>
<rect x="292" y="484" width="1" height="39" fill="#c0c0c0"/>
<rect x="300" y="484" width="1" height="40" fill="#c0c0c0"/>
<rect x="308" y="484" width="1" height="40" fill="#c0c0c0"/>
<rect x="316" y="484" width="1" height="38" fill="#c0c0c0"/>
<rect x="324" y="484" width="1" height="37" fill="#c0c0c0"/>
<rect x="332" y="484" width="1" height="38" fill="#c0c0c0"/>
<rect x="340" y="484" width="1" height="39" fill="#c0c0c0"/>
<rect x="348" y="484" width="1" height="39" fill="#c0c0c0"/>
<rect x="356" y="484" width="1" height="39" fill="#c0c0c0"/>
<rect x="364" y="484" width="1" height="39" fill="#c0c0c0"/>
<rect x="372" y="484" width="1" height="37" fill="#c0c0c0"/>
<rect x="380" y="484" width="1" height="33" fill="#c0c0c0"/>
<rect x="388" y="484" width="1" height="30" fill="#c0c0c0"/>
<rect x="396" y="484" width="1" height="29" fill="#c0c0c0"/>
<rect x="404" y="484" width="1" height="29" fill="#c0c0c0"/>
<rect x="412" y="484" width="1" height="29" fill="#c0c0c0"/>
<rect x="420" y="484" width="1" height="27" fill="#c0c0c0"/>
<rect x="428" y="484" width="1" height="28" fill="#c0c0c0"/>
<rect x="436" y="484" width="1" height="27" fill="#c0c0c0"/>
<rect x="444" y="484" width="1" height="26" fill="#c0c0c0"/>
<rect x="452" y="484" width="1" height="23" fill="#c0c0c0"/>
<rect x="460" y="484" width="1" height="21" fill="#c0c0c0"/>
<rect x="468" y="484" width="1" height="20" fill="#c0c0c0"/>
<rect x="476" y="484" width="1" height="17" fill="#c0c0c0"/>
<rect x="484" y="484" width="1" height="15" fill="#c0c0c0"/>
<rect x="492" y="484" width="1" height="13" fill="#c0c0c0"/>
<rect x="500" y="484" width="1" height="11" fill="#c0c0c0"/>
<rect x="508" y="484" width="1" height="9" fill="#c0c0c0"/>
<rect x="516" y="484" width="1" height="7" fill="#c0c0c0"/>
<rect x="524" y="484" width="1" height="7" fill="#c0c0c0"/>
<rect x="532" y="484" width="1" height="5" fill="#c0c0c0"/>
<rect x="540" y="484" width="1" height="3" fill="#c0c0c0"/>
<rect x="548" y="483" width="1" height="2" fill="#c0c0c0"/>
<rect x="556" y="480" width="1" height="5" fill="#c0c0c0"/>
<rect x="564" y="478" width="1" height="7" fill="#c0c0c0"/>
<rect x="572" y="478" width="1" height="7" fill="#c0c0c0"/>
<rect x="580" y="478" width="1" height="7" fill="#c0c0c0"/>
<rect x="588" y="478" width="1" height="7" fill="#c0c0c0"/>
<rect x="596" y="479" width="1" height="6" fill="#c0c0c0"/>
<rect x="604" y="480" width="1" height="5" fill="#c0c0c0"/>
<rect x="612" y="484" width="1" height="1" fill="#c0c0c0"/>
<rect x="620" y="484" width="1" height="2" fill="#c0c0c0"/>
<rect x="628" y="484" width="1" height="3" fill="#c0c0c0"/>
<rect x="636" y="484" width="1" height="4" fill="#c0c0c0"/>
<rect x="644" y="484" width="1" height="5" fill="#c0c0c0"/>
<rect x="652" y="484" width="1" height="7" fill="#c0c0c0"/>
<rect x="660" y="484" width="1" height="8" fill="#c0c0c0"/>
<rect x="668" y="484" width="1" height="10" fill="#c0c0c0"/>
<rect x="676" y="484" width="1" height="15" fill="#c0c0c0"/>
<rect x="684" y="484" width="1" height="19" fill="#c0c0c0"/>
<rect x="692" y="484" width="1" height="24" fill="#c0c0c0"/>
<rect x="700" y="484" width="1" height="29" fill="#c0c0c0"/>
<rect x="708" y="484" width="1" height="32" fill="#c0c0c0"/>
<rect x="716" y="484" width="1" height="36" fill="#c0c0c0"/>
<rect x="724" y="484" width="1" height="40" fill="#c0c0c0"/>
<rect x="732" y="484" width="1" height="41" fill="#c0c0c0"/>
<rect x="740" y="484" width="1" height="42" fill="#c0c0c0"/>
<rect x="748" y="484" width="1" height="41" fill="#c0c0c0"/>
<rect x="756" y="484" width="1" height="41" fill="#c0c0c0"/>
<rect x="764" y="484" width="1" height="41" fill="#c0c0c0"/>
<rect x="772" y="484" width="1" height="47" fill="#c0c0c0"/>
<rect x="780" y="484" width="1" height="49" fill="#c0c0c0"/>
<rect x="788" y="484" width="1" height="51" fill="#c0c0c0"/>
<rect x="796" y="484" width="1" height="59" fill="#c0c0c0"/>
<rect x="804" y="484" width="1" height="63" fill="#c0c0c0"/>
<rect x="812" y="484" width="1" height="66" fill="#c0c0c0"/>
<rect x="820" y="484" width="1" height="69" fill="#c0c0c0"/>
<rect x="828" y="484" width="1" height="71" fill="#c0c0c0"/>
<rect x="836" y="484" width="1" height="70" fill="#c0c0c0"/>
<rect x="844" y="484" width="1" height="70" fill="#c0c0c0"/>
<rect x="852" y="484" width="1" height="69" fill="#c0c0c0"/>
<rect x="860" y="484" width="1" height="68" fill="#c0c0c0"/>
<rect x="868" y="484" width="1" height="63" fill="#c0c0c0"/>
<rect x="876" y="484" width="1" height="57" fill="#c0c0c0"/>
<rect x="884" y="484" width="1" height="54" fill="#c0c0c0"/>
<rect x="892" y="484" width="1" height="50" fill="#c0c0c0"/>
<rect x="900" y="484" width="1" height="47" fill="#c0c0c0"/>
<rect x="908" y="484" width="1" height="46" fill="#c0c0c0"/>
<rect x="916" y="484" width="1" height="44" fill="#c0c0c0"/>
<rect x="924" y="484" width="1" height="44" fill="#c0c0c0"/>
<rect x="932" y="484" width="1" height="44" fill="#c0c0c0"/>
<rect x="940" y="484" width="1" height="46" fill="#c0c0c0"/>
<rect x="948" y="484" width="1" height="47" fill="#c0c0c0"/>
<rect x="956" y="484" width="1" height="50" fill="#c0c0c0"/>
<rect x="964" y="484" width="1" height="52" fill="#c0c0c0"/>
<rect x="972" y="484" width="1" height="51" fill="#c0c0c0"/>
<rect x="980" y="484" width="1" height="47" fill="#c0c0c0"/>
<rect x="988" y="484" width="1" height="44" fill="#c0c0c0"/>
<rect x="996" y="484" width="1" height="43" fill="#c0c0c0"/>
<rect x="1004" y="484" width="1" height="44" fill="#c0c0c0"/>
<rect x="1012" y="484" width="1" height="47" fill="#c0c0c0"/>
<rect x="1020" y="484" width="1" height="49" fill="#c0c0c0"/>
<rect x="1028" y="484" width="1" height="51" fill="#c0c0c0"/>
<rect x="1036" y="484" width="1" height="54" fill="#c0c0c0"/>
<rect x="1044" y="484" width="1" height="54" fill="#c0c0c0"/>
<rect x="1052" y="484" width="1" height="54" fill="#c0c0c0"/>
<rect x="1060" y="484" width="1" height="53" fill="#c0c0c0"/>
<rect x="1068" y="484" width="1" height="59" fill="#c0c0c0"/>
<rect x="1076" y="484" width="1" height="66" fill="#c0c0c0"/>
<rect x="1084" y="484" width="1" height="69" fill="#c0c0c0"/>
<rect x="1092" y="484" width="1" height="69" fill="#c0c0c0"/>
<rect x="1100" y="484" width="1" height="67" fill="#c0c0c0"/>
<rect x="1108" y="484" width="1" height="66" fill="#c0c0c0"/>
<rect x="1116" y="484" width="1" height="64" fill="#c0c0c0"/>
<rect x="1124" y="484" width="1" height="66" fill="#c0c0c0"/>
<rect x="1132" y="484" width="1" height="67" fill="#c0c0c0"/>
<rect x="1140" y="484" width="1" height="63" fill="#c0c0c0"/>
<rect x="1148" y="484" width="1" height="57" fill="#c0c0c0"/>
<rect x="1156" y="484" width="1" height="51" fill="#c0c0c0"/>
<rect x="1164" y="484" width="1" height="43" fill="#c0c0c0"/>
<rect x="1172" y="484" width="1" height="39" fill="#c0c0c0"/>
<rect x="1180" y="484" width="1" height="35" fill="#c0c0c0"/>
<rect x="1188" y="484" width="1" height="31" fill="#c0c0c0"/>
</g>
<g clip-path="url(#cc)" shape-rendering="crispEdges">
<path fill="#ff0000" d="M98 446h5v1h-5zM106 446h5v1h-5zM114 446h5v1h-5zM122 446h4v1h-4zM94 447h1v1h-1zM126 447h1v1h-1zM90 448h4v1h-4zM130 448h1v1h-1zM86 449h1v1h-1zM131 449h3v1h-3zM82 450h4v1h-4zM134 450h1v1h-1zM78 451h1v1h-1zM138 451h1v1h-1zM76 452h2v1h-2zM139 452h2v1h-2zM74 453h2v1h-2zM141 453h2v1h-2zM146 455h1v1h-1zM70 456h1v1h-1zM147 456h3v1h-3zM69 457h1v1h-1zM150 457h1v1h-1zM68 458h1v1h-1zM154 458h1v1h-1zM66 459h2v1h-2zM155 459h3v1h-3zM158 460h1v1h-1zM162 461h4v1h-4zM62 462h1v1h-1zM166 462h1v1h-1zM61 463h1v1h-1zM170 463h1v1h-1zM60 464h1v1h-1zM171 464h3v1h-3zM58 465h2v1h-2zM174 465h1v1h-1zM178 466h1v1h-1zM179 467h3v1h-3zM53 468h2v1h-2zM182 468h1v1h-1zM51 469h2v1h-2zM186 469h1v1h-1zM50 470h1v1h-1zM187 470h2v1h-2zM189 471h2v1h-2zM45 472h2v1h-2zM43 473h2v1h-2zM42 474h1v1h-1zM194 474h2v1h-2zM196 475h1v1h-1zM37 476h2v1h-2zM197 476h2v1h-2zM35 477h2v1h-2zM34 478h1v1h-1zM30 479h1v1h-1zM202 479h2v1h-2zM602 479h5v1h-5zM610 479h5v1h-5zM618 479h5v1h-5zM26 480h4v1h-4zM204 480h1v1h-1zM594 480h5v1h-5zM626 480h5v1h-5zM22 481h1v1h-1zM205 481h2v1h-2zM590 481h1v1h-1zM634 481h5v1h-5zM19 482h3v1h-3zM586 482h4v1h-4zM642 482h4v1h-4zM18 483h1v1h-1zM210 483h1v1h-1zM578 483h5v1h-5zM646 483h1v1h-1zM14 484h1v1h-1zM211 484h2v1h-2zM571 484h4v1h-4zM650 484h4v1h-4zM10 485h4v1h-4zM213 485h1v1h-1zM570 485h1v1h-1zM654 485h1v1h-1zM4 486h3v1h-3zM214 486h1v1h-1zM566 486h1v1h-1zM658 486h4v1h-4zM562 487h4v1h-4zM662 487h1v1h-1zM558 488h1v1h-1zM666 488h4v1h-4zM218 489h2v1h-2zM554 489h4v1h-4zM670 489h1v1h-1zM220 490h1v1h-1zM550 490h1v1h-1zM674 490h4v1h-4zM221 491h2v1h-2zM546 491h4v1h-4zM678 491h1v1h-1zM538 492h5v1h-5zM682 492h4v1h-4zM226 493h1v1h-1zM534 493h1v1h-1zM686 493h1v1h-1zM227 494h2v1h-2zM531 494h3v1h-3zM690 494h1v1h-1zM229 495h1v1h-1zM530 495h1v1h-1zM691 495h3v1h-3zM230 496h1v1h-1zM526 496h1v1h-1zM694 496h1v1h-1zM522 497h4v1h-4zM698 497h1v1h-1zM514 498h5v1h-5zM699 498h3v1h-3zM234 499h1v1h-1zM510 499h1v1h-1zM702 499h1v1h-1zM235 500h1v1h-1zM506 500h4v1h-4zM706 500h1v1h-1zM236 501h1v1h-1zM502 501h1v1h-1zM707 501h3v1h-3zM237 502h1v1h-1zM499 502h3v1h-3zM710 502h1v1h-1zM238 503h1v1h-1zM498 503h1v1h-1zM714 503h1v1h-1zM494 504h1v1h-1zM715 504h2v1h-2zM490 505h4v1h-4zM717 505h2v1h-2zM242 506h1v1h-1zM482 506h5v1h-5zM243 507h1v1h-1zM478 507h1v1h-1zM722 507h1v1h-1zM244 508h1v1h-1zM474 508h4v1h-4zM723 508h3v1h-3zM245 509h2v1h-2zM466 509h5v1h-5zM726 509h1v1h-1zM458 510h5v1h-5zM730 510h1v1h-1zM250 511h1v1h-1zM454 511h1v1h-1zM731 511h3v1h-3zM251 512h3v1h-3zM450 512h4v1h-4zM734 512h1v1h-1zM254 513h1v1h-1zM442 513h5v1h-5zM738 513h1v1h-1zM258 514h1v1h-1zM434 514h5v1h-5zM739 514h2v1h-2zM259 515h3v1h-3zM426 515h5v1h-5zM741 515h2v1h-2zM262 516h1v1h-1zM418 516h5v1h-5zM266 517h1v1h-1zM414 517h1v1h-1zM746 517h1v1h-1zM267 518h3v1h-3zM410 518h4v1h-4zM747 518h3v1h-3zM270 519h1v1h-1zM402 519h5v1h-5zM750 519h1v1h-1zM274 520h4v1h-4zM394 520h5v1h-5zM754 520h4v1h-4zM278 521h1v1h-1zM386 521h5v1h-5zM758 521h1v1h-1zM282 522h5v1h-5zM290 522h5v1h-5zM378 522h5v1h-5zM762 522h4v1h-4zM298 523h5v1h-5zM322 523h5v1h-5zM330 523h5v1h-5zM338 523h5v1h-5zM346 523h5v1h-5zM354 523h5v1h-5zM362 523h5v1h-5zM370 523h5v1h-5zM766 523h1v1h-1zM306 524h5v1h-5zM314 524h5v1h-5zM770 524h4v1h-4zM774 525h1v1h-1zM778 526h4v1h-4zM782 527h1v1h-1zM786 528h4v1h-4zM790 529h1v1h-1zM794 530h4v1h-4zM946 530h5v1h-5zM954 530h5v1h-5zM962 530h5v1h-5zM798 531h1v1h-1zM939 531h4v1h-4zM970 531h5v1h-5zM978 531h5v1h-5zM986 531h5v1h-5zM994 531h5v1h-5zM1002 531h5v1h-5zM1010 531h5v1h-5zM1018 531h5v1h-5zM1026 531h5v1h-5zM1034 531h5v1h-5zM1042 531h5v1h-5zM802 532h4v1h-4zM938 532h1v1h-1zM1050 532h5v1h-5zM806 533h1v1h-1zM934 533h1v1h-1zM1058 533h5v1h-5zM810 534h1v1h-1zM931 534h3v1h-3zM1066 534h4v1h-4zM1187 534h1v1h-1zM811 535h3v1h-3zM930 535h1v1h-1zM1070 535h1v1h-1zM1186 535h1v1h-1zM814 536h1v1h-1zM926 536h1v1h-1zM1074 536h1v1h-1zM818 537h1v1h-1zM922 537h4v1h-4zM1075 537h3v1h-3zM1181 537h2v1h-2zM819 538h3v1h-3zM918 538h1v1h-1zM1078 538h1v1h-1zM1179 538h2v1h-2zM822 539h1v1h-1zM915 539h3v1h-3zM1082 539h1v1h-1zM1178 539h1v1h-1zM826 540h1v1h-1zM914 540h1v1h-1zM1083 540h3v1h-3zM1174 540h1v1h-1zM827 541h3v1h-3zM910 541h1v1h-1zM1086 541h1v1h-1zM1171 541h3v1h-3zM830 542h1v1h-1zM906 542h4v1h-4zM1090 542h4v1h-4zM1170 542h1v1h-1zM834 543h1v1h-1zM902 543h1v1h-1zM1094 543h1v1h-1zM1166 543h1v1h-1zM835 544h3v1h-3zM899 544h3v1h-3zM1098 544h4v1h-4zM1163 544h3v1h-3zM838 545h1v1h-1zM898 545h1v1h-1zM1102 545h1v1h-1zM1162 545h1v1h-1zM842 546h1v1h-1zM1106 546h5v1h-5zM1158 546h1v1h-1zM843 547h3v1h-3zM893 547h2v1h-2zM1114 547h5v1h-5zM1154 547h4v1h-4zM846 548h1v1h-1zM890 548h3v1h-3zM1122 548h5v1h-5zM1150 548h1v1h-1zM850 549h4v1h-4zM886 549h1v1h-1zM1130 549h5v1h-5zM1146 549h4v1h-4zM854 550h1v1h-1zM882 550h4v1h-4zM1138 550h5v1h-5zM858 551h5v1h-5zM874 551h5v1h-5zM866 552h5v1h-5z"/>
</g>
<g shape-rendering="crispEdges" clip-path="url(#cr)">
<line x1="5" y1="598.5" x2="1209" y2="598.5" stroke="#c0c0c0" stroke-dasharray="3 3"/>
<line x1="5" y1="643.5" x2="1209" y2="643.5" stroke="#c0c0c0" stroke-dasharray="3 3"/>
<path fill="#1e90ff" d="M60 592h1v1h-1zM58 593h2v1h-2zM61 593h2v1h-2zM57 594h1v1h-1zM63 594h1v1h-1zM56 595h1v1h-1zM64 595h2v1h-2zM18 596h3v1h-3zM54 596h2v1h-2zM66 596h2v1h-2zM14 597h4v1h-4zM21 597h1v1h-1zM53 597h1v1h-1zM68 597h1v1h-1zM8 598h6v1h-6zM21 598h1v1h-1zM52 598h1v1h-1zM69 598h1v1h-1zM4 599h4v1h-4zM22 599h1v1h-1zM50 599h2v1h-2zM70 599h1v1h-1zM23 600h1v1h-1zM48 600h2v1h-2zM71 600h1v1h-1zM23 601h1v1h-1zM47 601h1v1h-1zM72 601h2v1h-2zM24 602h1v1h-1zM45 602h2v1h-2zM74 602h1v1h-1zM25 603h1v1h-1zM40 603h5v1h-5zM75 603h1v1h-1zM25 604h1v1h-1zM35 604h5v1h-5zM76 604h1v1h-1zM26 605h1v1h-1zM33 605h2v1h-2zM77 605h1v1h-1zM27 606h1v1h-1zM31 606h2v1h-2zM78 606h1v1h-1zM548 606h2v1h-2zM27 607h1v1h-1zM29 607h2v1h-2zM79 607h1v1h-1zM547 607h1v1h-1zM550 607h4v1h-4zM28 608h1v1h-1zM80 608h1v1h-1zM546 608h1v1h-1zM554 608h4v1h-4zM81 609h1v1h-1zM546 609h1v1h-1zM558 609h2v1h-2zM82 610h1v1h-1zM156 610h1v1h-1zM545 610h1v1h-1zM560 610h3v1h-3zM83 611h1v1h-1zM154 611h2v1h-2zM157 611h1v1h-1zM544 611h1v1h-1zM563 611h3v1h-3zM84 612h1v1h-1zM153 612h1v1h-1zM158 612h1v1h-1zM543 612h1v1h-1zM566 612h2v1h-2zM85 613h2v1h-2zM152 613h1v1h-1zM159 613h1v1h-1zM542 613h1v1h-1zM568 613h3v1h-3zM87 614h2v1h-2zM98 614h3v1h-3zM150 614h2v1h-2zM160 614h1v1h-1zM542 614h1v1h-1zM571 614h3v1h-3zM89 615h2v1h-2zM94 615h4v1h-4zM101 615h1v1h-1zM116 615h1v1h-1zM149 615h1v1h-1zM161 615h1v1h-1zM541 615h1v1h-1zM574 615h2v1h-2zM91 616h3v1h-3zM102 616h2v1h-2zM114 616h2v1h-2zM117 616h2v1h-2zM147 616h2v1h-2zM162 616h1v1h-1zM536 616h5v1h-5zM576 616h3v1h-3zM592 616h5v1h-5zM104 617h1v1h-1zM112 617h2v1h-2zM119 617h1v1h-1zM144 617h3v1h-3zM163 617h1v1h-1zM532 617h4v1h-4zM579 617h13v1h-13zM597 617h1v1h-1zM105 618h1v1h-1zM111 618h1v1h-1zM120 618h2v1h-2zM142 618h2v1h-2zM164 618h1v1h-1zM508 618h4v1h-4zM530 618h2v1h-2zM598 618h1v1h-1zM106 619h2v1h-2zM109 619h2v1h-2zM122 619h2v1h-2zM138 619h4v1h-4zM165 619h2v1h-2zM476 619h2v1h-2zM506 619h2v1h-2zM512 619h5v1h-5zM529 619h1v1h-1zM599 619h1v1h-1zM108 620h1v1h-1zM124 620h4v1h-4zM134 620h4v1h-4zM167 620h2v1h-2zM475 620h1v1h-1zM478 620h2v1h-2zM504 620h2v1h-2zM517 620h2v1h-2zM528 620h1v1h-1zM600 620h2v1h-2zM128 621h6v1h-6zM169 621h2v1h-2zM475 621h1v1h-1zM480 621h3v1h-3zM503 621h1v1h-1zM519 621h2v1h-2zM526 621h2v1h-2zM602 621h1v1h-1zM1164 621h1v1h-1zM171 622h2v1h-2zM474 622h1v1h-1zM483 622h13v1h-13zM501 622h2v1h-2zM521 622h2v1h-2zM525 622h1v1h-1zM603 622h1v1h-1zM1163 622h1v1h-1zM1165 622h2v1h-2zM173 623h1v1h-1zM474 623h1v1h-1zM496 623h5v1h-5zM523 623h2v1h-2zM604 623h1v1h-1zM1162 623h1v1h-1zM1167 623h1v1h-1zM173 624h1v1h-1zM459 624h2v1h-2zM473 624h1v1h-1zM605 624h1v1h-1zM628 624h2v1h-2zM1161 624h1v1h-1zM1168 624h2v1h-2zM1178 624h11v1h-11zM174 625h1v1h-1zM457 625h2v1h-2zM461 625h1v1h-1zM472 625h1v1h-1zM606 625h1v1h-1zM627 625h1v1h-1zM630 625h2v1h-2zM1160 625h1v1h-1zM1170 625h2v1h-2zM1174 625h4v1h-4zM174 626h1v1h-1zM380 626h1v1h-1zM455 626h2v1h-2zM462 626h1v1h-1zM472 626h1v1h-1zM607 626h1v1h-1zM626 626h1v1h-1zM632 626h3v1h-3zM1159 626h1v1h-1zM1172 626h2v1h-2zM175 627h1v1h-1zM378 627h2v1h-2zM381 627h2v1h-2zM453 627h2v1h-2zM463 627h1v1h-1zM471 627h1v1h-1zM608 627h2v1h-2zM625 627h1v1h-1zM635 627h11v1h-11zM1158 627h1v1h-1zM175 628h1v1h-1zM376 628h2v1h-2zM383 628h2v1h-2zM451 628h2v1h-2zM464 628h1v1h-1zM470 628h1v1h-1zM610 628h1v1h-1zM624 628h1v1h-1zM646 628h2v1h-2zM1157 628h1v1h-1zM176 629h1v1h-1zM375 629h1v1h-1zM385 629h2v1h-2zM449 629h2v1h-2zM465 629h1v1h-1zM470 629h1v1h-1zM611 629h1v1h-1zM624 629h1v1h-1zM648 629h3v1h-3zM1148 629h9v1h-9zM176 630h1v1h-1zM373 630h2v1h-2zM387 630h3v1h-3zM447 630h2v1h-2zM466 630h1v1h-1zM469 630h1v1h-1zM612 630h2v1h-2zM623 630h1v1h-1zM651 630h3v1h-3zM1147 630h1v1h-1zM177 631h1v1h-1zM372 631h1v1h-1zM390 631h2v1h-2zM445 631h2v1h-2zM467 631h1v1h-1zM469 631h1v1h-1zM614 631h2v1h-2zM622 631h1v1h-1zM654 631h4v1h-4zM876 631h2v1h-2zM988 631h1v1h-1zM1146 631h1v1h-1zM177 632h1v1h-1zM371 632h1v1h-1zM392 632h3v1h-3zM440 632h5v1h-5zM468 632h1v1h-1zM616 632h3v1h-3zM621 632h1v1h-1zM658 632h6v1h-6zM874 632h2v1h-2zM878 632h2v1h-2zM986 632h2v1h-2zM989 632h1v1h-1zM1144 632h2v1h-2zM178 633h1v1h-1zM187 633h3v1h-3zM371 633h1v1h-1zM395 633h5v1h-5zM419 633h3v1h-3zM435 633h5v1h-5zM619 633h2v1h-2zM664 633h5v1h-5zM873 633h1v1h-1zM880 633h3v1h-3zM985 633h1v1h-1zM990 633h1v1h-1zM1143 633h1v1h-1zM178 634h1v1h-1zM185 634h2v1h-2zM190 634h2v1h-2zM202 634h12v1h-12zM266 634h6v1h-6zM370 634h1v1h-1zM400 634h6v1h-6zM416 634h3v1h-3zM422 634h2v1h-2zM432 634h3v1h-3zM669 634h1v1h-1zM872 634h1v1h-1zM883 634h13v1h-13zM984 634h1v1h-1zM991 634h1v1h-1zM1142 634h1v1h-1zM179 635h1v1h-1zM183 635h2v1h-2zM192 635h3v1h-3zM198 635h4v1h-4zM214 635h4v1h-4zM262 635h4v1h-4zM272 635h6v1h-6zM370 635h1v1h-1zM406 635h4v1h-4zM414 635h2v1h-2zM424 635h3v1h-3zM430 635h2v1h-2zM670 635h1v1h-1zM870 635h2v1h-2zM896 635h6v1h-6zM982 635h2v1h-2zM992 635h2v1h-2zM1141 635h1v1h-1zM179 636h1v1h-1zM181 636h2v1h-2zM195 636h3v1h-3zM218 636h4v1h-4zM234 636h4v1h-4zM259 636h3v1h-3zM278 636h2v1h-2zM307 636h11v1h-11zM369 636h1v1h-1zM410 636h4v1h-4zM427 636h3v1h-3zM670 636h1v1h-1zM869 636h1v1h-1zM902 636h2v1h-2zM981 636h1v1h-1zM994 636h1v1h-1zM1140 636h1v1h-1zM180 637h1v1h-1zM222 637h4v1h-4zM230 637h4v1h-4zM238 637h4v1h-4zM256 637h3v1h-3zM280 637h3v1h-3zM288 637h6v1h-6zM304 637h3v1h-3zM318 637h4v1h-4zM368 637h1v1h-1zM671 637h1v1h-1zM868 637h1v1h-1zM904 637h3v1h-3zM912 637h5v1h-5zM976 637h5v1h-5zM995 637h1v1h-1zM1139 637h1v1h-1zM226 638h4v1h-4zM242 638h6v1h-6zM254 638h2v1h-2zM283 638h5v1h-5zM294 638h4v1h-4zM302 638h2v1h-2zM322 638h3v1h-3zM368 638h1v1h-1zM672 638h1v1h-1zM867 638h1v1h-1zM907 638h5v1h-5zM917 638h2v1h-2zM972 638h4v1h-4zM996 638h2v1h-2zM1139 638h1v1h-1zM248 639h6v1h-6zM298 639h4v1h-4zM325 639h2v1h-2zM367 639h1v1h-1zM673 639h1v1h-1zM867 639h1v1h-1zM919 639h2v1h-2zM971 639h1v1h-1zM998 639h2v1h-2zM1138 639h1v1h-1zM327 640h2v1h-2zM366 640h1v1h-1zM674 640h1v1h-1zM866 640h1v1h-1zM921 640h2v1h-2zM971 640h1v1h-1zM1000 640h3v1h-3zM1137 640h1v1h-1zM329 641h2v1h-2zM366 641h1v1h-1zM674 641h1v1h-1zM865 641h1v1h-1zM923 641h5v1h-5zM970 641h1v1h-1zM1003 641h3v1h-3zM1051 641h5v1h-5zM1099 641h3v1h-3zM1137 641h1v1h-1zM331 642h3v1h-3zM347 642h11v1h-11zM365 642h1v1h-1zM675 642h1v1h-1zM748 642h4v1h-4zM865 642h1v1h-1zM928 642h6v1h-6zM970 642h1v1h-1zM1006 642h4v1h-4zM1048 642h3v1h-3zM1056 642h5v1h-5zM1096 642h3v1h-3zM1102 642h4v1h-4zM1112 642h5v1h-5zM1136 642h1v1h-1zM334 643h2v1h-2zM344 643h3v1h-3zM358 643h4v1h-4zM365 643h1v1h-1zM676 643h2v1h-2zM746 643h2v1h-2zM752 643h5v1h-5zM864 643h1v1h-1zM934 643h2v1h-2zM969 643h1v1h-1zM1010 643h4v1h-4zM1046 643h2v1h-2zM1061 643h1v1h-1zM1094 643h2v1h-2zM1106 643h6v1h-6zM1117 643h2v1h-2zM1135 643h1v1h-1zM336 644h3v1h-3zM342 644h2v1h-2zM362 644h3v1h-3zM678 644h4v1h-4zM745 644h1v1h-1zM757 644h2v1h-2zM863 644h1v1h-1zM936 644h3v1h-3zM968 644h1v1h-1zM1014 644h2v1h-2zM1044 644h2v1h-2zM1062 644h1v1h-1zM1092 644h2v1h-2zM1119 644h1v1h-1zM1135 644h1v1h-1zM339 645h3v1h-3zM682 645h3v1h-3zM744 645h1v1h-1zM759 645h2v1h-2zM863 645h1v1h-1zM939 645h3v1h-3zM968 645h1v1h-1zM1016 645h3v1h-3zM1042 645h2v1h-2zM1063 645h1v1h-1zM1091 645h1v1h-1zM1120 645h2v1h-2zM1134 645h1v1h-1zM685 646h2v1h-2zM742 646h2v1h-2zM761 646h2v1h-2zM862 646h1v1h-1zM942 646h4v1h-4zM967 646h1v1h-1zM1019 646h10v1h-10zM1041 646h1v1h-1zM1064 646h1v1h-1zM1090 646h1v1h-1zM1122 646h2v1h-2zM1133 646h1v1h-1zM687 647h2v1h-2zM741 647h1v1h-1zM763 647h2v1h-2zM852 647h2v1h-2zM861 647h1v1h-1zM946 647h4v1h-4zM966 647h1v1h-1zM1029 647h2v1h-2zM1040 647h1v1h-1zM1064 647h1v1h-1zM1090 647h1v1h-1zM1124 647h4v1h-4zM1133 647h1v1h-1zM689 648h2v1h-2zM707 648h3v1h-3zM738 648h3v1h-3zM765 648h1v1h-1zM850 648h2v1h-2zM854 648h4v1h-4zM861 648h1v1h-1zM950 648h2v1h-2zM966 648h1v1h-1zM1031 648h2v1h-2zM1038 648h2v1h-2zM1065 648h1v1h-1zM1089 648h1v1h-1zM1128 648h5v1h-5zM691 649h3v1h-3zM704 649h3v1h-3zM710 649h2v1h-2zM734 649h4v1h-4zM766 649h1v1h-1zM780 649h4v1h-4zM848 649h2v1h-2zM858 649h3v1h-3zM952 649h3v1h-3zM965 649h1v1h-1zM1033 649h2v1h-2zM1037 649h1v1h-1zM1066 649h1v1h-1zM1088 649h1v1h-1zM694 650h4v1h-4zM702 650h2v1h-2zM712 650h3v1h-3zM731 650h3v1h-3zM767 650h1v1h-1zM779 650h1v1h-1zM784 650h5v1h-5zM835 650h3v1h-3zM847 650h1v1h-1zM955 650h5v1h-5zM965 650h1v1h-1zM1035 650h2v1h-2zM1067 650h1v1h-1zM1087 650h1v1h-1zM698 651h4v1h-4zM715 651h3v1h-3zM728 651h3v1h-3zM768 651h1v1h-1zM778 651h1v1h-1zM789 651h1v1h-1zM833 651h2v1h-2zM838 651h4v1h-4zM845 651h2v1h-2zM960 651h5v1h-5zM1068 651h4v1h-4zM1086 651h1v1h-1zM718 652h4v1h-4zM726 652h2v1h-2zM768 652h1v1h-1zM776 652h2v1h-2zM790 652h1v1h-1zM804 652h10v1h-10zM831 652h2v1h-2zM842 652h3v1h-3zM1072 652h6v1h-6zM1086 652h1v1h-1zM722 653h4v1h-4zM769 653h1v1h-1zM775 653h1v1h-1zM791 653h1v1h-1zM802 653h2v1h-2zM814 653h4v1h-4zM829 653h2v1h-2zM1078 653h4v1h-4zM1085 653h1v1h-1zM770 654h1v1h-1zM774 654h1v1h-1zM792 654h1v1h-1zM801 654h1v1h-1zM818 654h11v1h-11zM1082 654h3v1h-3zM771 655h1v1h-1zM773 655h1v1h-1zM793 655h1v1h-1zM800 655h1v1h-1zM772 656h1v1h-1zM794 656h1v1h-1zM798 656h2v1h-2zM795 657h1v1h-1zM797 657h1v1h-1zM796 658h1v1h-1z"/>
</g>
<g shape-rendering="crispEdges">
<rect x="3" y="32" width="1207" height="1" fill="#000"/>
<rect x="3" y="428" width="1207" height="1" fill="#000"/>
<rect x="3" y="32" width="1" height="397" fill="#000"/>
<rect x="1209" y="32" width="1" height="397" fill="#000"/>
<rect x="3" y="430" width="1207" height="1" fill="#000"/>
<rect x="3" y="561" width="1207" height="1" fill="#000"/>
<rect x="3" y="430" width="1" height="132" fill="#000"/>
<rect x="1209" y="430" width="1" height="132" fill="#000"/>
<rect x="3" y="563" width="1207" height="1" fill="#000"/>
<rect x="3" y="677" width="1207" height="1" fill="#000"/>
<rect x="3" y="563" width="1" height="115" fill="#000"/>
<rect x="1209" y="563" width="1" height="115" fill="#000"/>
<rect x="1209" y="244" width="1" height="2" fill="#ff0000"/>
<rect x="1209" y="285" width="1" height="2" fill="#ff0000"/>
<rect x="1203" y="346" width="6" height="6" fill="#00ff7f"/>
<rect x="1205" y="348" width="2" height="2" fill="#fff"/>
<rect x="3" y="346" width="6" height="6" fill="#00ff7f"/>
<rect x="5" y="348" width="2" height="2" fill="#fff"/>
<rect x="1209" y="348" width="1" height="2" fill="#00ff7f"/>
<rect x="1203" y="388" width="6" height="6" fill="#2e00ff"/>
<rect x="1205" y="390" width="2" height="2" fill="#fff"/>
<rect x="3" y="388" width="6" height="6" fill="#2e00ff"/>
<rect x="5" y="390" width="2" height="2" fill="#fff"/>
<rect x="1209" y="390" width="1" height="2" fill="#2e00ff"/>
<rect x="1210" y="62" width="2" height="1" fill="#000"/>
<rect x="1210" y="95" width="2" height="1" fill="#000"/>
<rect x="1210" y="128" width="2" height="1" fill="#000"/>
<rect x="1210" y="161" width="2" height="1" fill="#000"/>
<rect x="1210" y="194" width="2" height="1" fill="#000"/>
<rect x="1210" y="227" width="2" height="1" fill="#000"/>
<rect x="1210" y="260" width="2" height="1" fill="#000"/>
<rect x="1210" y="293" width="2" height="1" fill="#000"/>
<rect x="1210" y="326" width="2" height="1" fill="#000"/>
<rect x="1210" y="359" width="2" height="1" fill="#000"/>
<rect x="1210" y="392" width="2" height="1" fill="#000"/>
<rect x="1210" y="425" width="2" height="1" fill="#000"/>
<rect x="1210" y="432" width="1" height="1" fill="#000"/>
<rect x="1210" y="484" width="1" height="1" fill="#000"/>
<rect x="1210" y="560" width="1" height="1" fill="#000"/>
<rect x="1210" y="565" width="1" height="1" fill="#000"/>
<rect x="1210" y="676" width="1" height="1" fill="#000"/>
<rect x="4" y="678" width="1" height="3" fill="#000"/>
<rect x="68" y="678" width="1" height="3" fill="#000"/>
<rect x="132" y="678" width="1" height="3" fill="#000"/>
<rect x="196" y="678" width="1" height="3" fill="#000"/>
<rect x="260" y="678" width="1" height="3" fill="#000"/>
<rect x="324" y="678" width="1" height="3" fill="#000"/>
<rect x="388" y="678" width="1" height="3" fill="#000"/>
<rect x="452" y="678" width="1" height="3" fill="#000"/>
<rect x="516" y="678" width="1" height="3" fill="#000"/>
<rect x="580" y="678" width="1" height="3" fill="#000"/>
<rect x="644" y="678" width="1" height="3" fill="#000"/>
<rect x="708" y="678" width="1" height="3" fill="#000"/>
<rect x="772" y="678" width="1" height="3" fill="#000"/>
<rect x="836" y="678" width="1" height="3" fill="#000"/>
<rect x="900" y="678" width="1" height="3" fill="#000"/>
<rect x="964" y="678" width="1" height="3" fill="#000"/>
<rect x="1028" y="678" width="1" height="3" fill="#000"/>
<rect x="1092" y="678" width="1" height="3" fill="#000"/>
<rect x="1156" y="678" width="1" height="3" fill="#000"/>
<rect x="1212" y="239" width="34" height="11" fill="#ff0000"/>
<rect x="1212" y="280" width="34" height="11" fill="#ff0000"/>
<rect x="1212" y="343" width="34" height="11" fill="#00ff7f"/>
<rect x="1212" y="374" width="34" height="11" fill="#000"/>
<rect x="1212" y="385" width="34" height="11" fill="#2e00ff"/>
<rect x="7" y="39" width="7" height="1" fill="#000"/>
<rect x="8" y="40" width="5" height="1" fill="#000"/>
<rect x="9" y="41" width="3" height="1" fill="#000"/>
<rect x="10" y="42" width="1" height="1" fill="#000"/>
</g>
<text x="18.6" y="44" textLength="43.2" lengthAdjust="spacingAndGlyphs">UKOil-,H4</text>
<text x="67.4" y="44" textLength="27.4" lengthAdjust="spacingAndGlyphs">55.540</text>
<text x="98.6" y="44" textLength="27.4" lengthAdjust="spacingAndGlyphs">55.540</text>
<text x="129.8" y="44" textLength="27.4" lengthAdjust="spacingAndGlyphs">55.540</text>
<text x="161" y="44" textLength="27.4" lengthAdjust="spacingAndGlyphs">55.540</text>
<text x="7.6" y="443" textLength="65.4" lengthAdjust="spacingAndGlyphs">MACD(12,26,9)</text>
<text x="77" y="443" textLength="30.4" lengthAdjust="spacingAndGlyphs">-0.5583</text>
<text x="111" y="443" textLength="30.6" lengthAdjust="spacingAndGlyphs">-0.9104</text>
<text x="7.6" y="576" textLength="32" lengthAdjust="spacingAndGlyphs">RSI(14)</text>
<text x="42.9" y="576" textLength="32.4" lengthAdjust="spacingAndGlyphs">46.4740</text>
<text x="1214.8" y="66" textLength="27.4" lengthAdjust="spacingAndGlyphs">70.780</text>
<text x="1214.8" y="99" textLength="27.4" lengthAdjust="spacingAndGlyphs">69.205</text>
<text x="1214.8" y="132" textLength="27.4" lengthAdjust="spacingAndGlyphs">67.585</text>
<text x="1214.8" y="165" textLength="27.4" lengthAdjust="spacingAndGlyphs">66.010</text>
<text x="1214.8" y="198" textLength="27.4" lengthAdjust="spacingAndGlyphs">64.435</text>
<text x="1214.8" y="231" textLength="27.4" lengthAdjust="spacingAndGlyphs">62.860</text>
<text x="1214.8" y="264" textLength="27.4" lengthAdjust="spacingAndGlyphs">61.285</text>
<text x="1214.8" y="297" textLength="27.4" lengthAdjust="spacingAndGlyphs">59.665</text>
<text x="1214.8" y="330" textLength="27.4" lengthAdjust="spacingAndGlyphs">58.090</text>
<text x="1214.8" y="363" textLength="27.4" lengthAdjust="spacingAndGlyphs">56.515</text>
<text x="1214.8" y="429" textLength="27.4" lengthAdjust="spacingAndGlyphs">53.365</text>
<text x="1214.8" y="248" class="w" textLength="27.4" lengthAdjust="spacingAndGlyphs">62.000</text>
<text x="1214.8" y="289" class="w" textLength="27.4" lengthAdjust="spacingAndGlyphs">60.000</text>
<text x="1214.8" y="352" class="w" textLength="27.4" lengthAdjust="spacingAndGlyphs">57.000</text>
<text x="1214.8" y="383" class="w" textLength="27.4" lengthAdjust="spacingAndGlyphs">55.540</text>
<text x="1214.8" y="394" class="w" textLength="27.4" lengthAdjust="spacingAndGlyphs">55.000</text>
<text x="1212.4" y="441" textLength="27.6" lengthAdjust="spacingAndGlyphs">0.9726</text>
<text x="1212.5" y="488" textLength="17.6" lengthAdjust="spacingAndGlyphs">0.00</text>
<text x="1212.4" y="558" textLength="30.8" lengthAdjust="spacingAndGlyphs">-1.3969</text>
<text x="1213" y="574" textLength="14.6" lengthAdjust="spacingAndGlyphs">100</text>
<text x="1211.5" y="602" textLength="9.6" lengthAdjust="spacingAndGlyphs">70</text>
<text x="1211.5" y="647" textLength="9.6" lengthAdjust="spacingAndGlyphs">30</text>
<text x="1212.4" y="674" textLength="4.6" lengthAdjust="spacingAndGlyphs">0</text>
<text x="2.8" y="690" textLength="44.4" lengthAdjust="spacingAndGlyphs">3 Jan 2020</text>
<text x="66.8" y="690" textLength="47.4" lengthAdjust="spacingAndGlyphs">6 Jan 05:00</text>
<text x="130.8" y="690" textLength="47.4" lengthAdjust="spacingAndGlyphs">7 Jan 13:00</text>
<text x="194.8" y="690" textLength="47.4" lengthAdjust="spacingAndGlyphs">8 Jan 21:00</text>
<text x="258.8" y="690" textLength="52.4" lengthAdjust="spacingAndGlyphs">10 Jan 05:00</text>
<text x="322.8" y="690" textLength="52.4" lengthAdjust="spacingAndGlyphs">13 Jan 08:00</text>
<text x="386.8" y="690" textLength="52.4" lengthAdjust="spacingAndGlyphs">14 Jan 17:00</text>
<text x="450.8" y="690" textLength="52.4" lengthAdjust="spacingAndGlyphs">16 Jan 01:00</text>
<text x="514.8" y="690" textLength="52.4" lengthAdjust="spacingAndGlyphs">17 Jan 09:00</text>
<text x="578.8" y="690" textLength="52.4" lengthAdjust="spacingAndGlyphs">20 Jan 12:00</text>
<text x="642.8" y="690" textLength="52.4" lengthAdjust="spacingAndGlyphs">21 Jan 21:00</text>
<text x="706.8" y="690" textLength="52.4" lengthAdjust="spacingAndGlyphs">23 Jan 05:00</text>
<text x="770.8" y="690" textLength="52.4" lengthAdjust="spacingAndGlyphs">24 Jan 13:00</text>
<text x="834.8" y="690" textLength="52.4" lengthAdjust="spacingAndGlyphs">27 Jan 16:00</text>
<text x="898.8" y="690" textLength="52.4" lengthAdjust="spacingAndGlyphs">29 Jan 05:00</text>
<text x="962.8" y="690" textLength="52.4" lengthAdjust="spacingAndGlyphs">30 Jan 13:00</text>
<text x="1026.8" y="690" textLength="52.4" lengthAdjust="spacingAndGlyphs">31 Jan 21:00</text>
<text x="1090.8" y="690" textLength="49.6" lengthAdjust="spacingAndGlyphs">4 Feb 01:00</text>
<text x="1154.8" y="690" textLength="49.6" lengthAdjust="spacingAndGlyphs">5 Feb 09:00</text>
<text x="710.1" y="105" textLength="179" lengthAdjust="spacingAndGlyphs" style="font-family:'Liberation Sans','Noto Sans CJK SC',sans-serif;font-size:35.8px;fill:#ff0000;stroke:none">多空转折点</text>
<text x="891.1" y="104.5" textLength="39.4" lengthAdjust="spacingAndGlyphs" style="font-size:38.6px;fill:#ff0000;stroke:none">57</text>
</svg></body></html>
